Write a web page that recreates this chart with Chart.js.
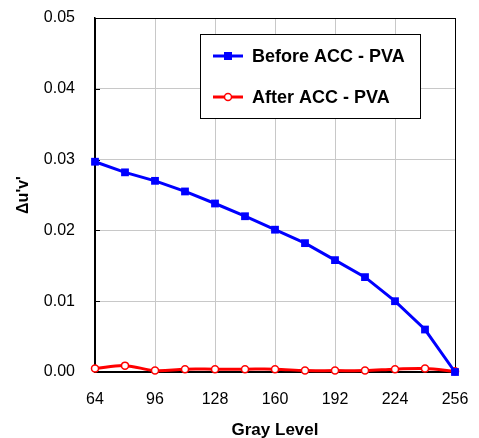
<!DOCTYPE html>
<html>
<head>
<meta charset="utf-8">
<script src="https://cdn.jsdelivr.net/npm/chart.js@4/dist/chart.umd.min.js"></script>
<style>
html,body{margin:0;padding:0;background:#fff;}
#wrap{width:479px;height:438px;position:relative;}
</style>
</head>
<body>
<div id="wrap"><canvas id="c" width="479" height="438"></canvas></div>
<script>
const grayLevels = [64, 80, 96, 112, 128, 144, 160, 176, 192, 208, 224, 240, 256];
const beforeACC = [0.0297, 0.0282, 0.0270, 0.0255, 0.0238, 0.0220, 0.0201, 0.0182, 0.0158, 0.0134, 0.0100, 0.0060, 0.0000];
const afterACC  = [0.0005, 0.0009, 0.0002, 0.0004, 0.0004, 0.0004, 0.0004, 0.0002, 0.0002, 0.0002, 0.0004, 0.0005, 0.0001];
const seriesNames = ['Before ACC - PVA', 'After ACC - PVA'];
const xTicks = [64, 96, 128, 160, 192, 224, 256];
const yTicks = [0, 0.01, 0.02, 0.03, 0.04, 0.05];
const xTitle = 'Gray Level';
const yTitle = "\u0394u'v'";

const toPts = (arr) => grayLevels.map((g, i) => ({x: g, y: arr[i]}));

const framePlugin = {
  id: 'frame',
  beforeDatasetsDraw(chart) {
    const {ctx, chartArea: a, scales} = chart;
    ctx.save();
    ctx.strokeStyle = '#000';
    ctx.lineWidth = 1;
    ctx.strokeRect(Math.round(a.left) + 0.5, Math.round(a.top) + 0.5, Math.round(a.right - a.left), Math.round(a.bottom - a.top));
    yTicks.forEach(v => {
      const y = Math.round(scales.y.getPixelForValue(v)) + 0.5;
      ctx.beginPath(); ctx.moveTo(a.left, y); ctx.lineTo(a.left + 5, y); ctx.stroke();
    });
    ctx.restore();
  },
  afterDraw(chart) {
    const {ctx} = chart;
    ctx.save();
    const bx = 200.5, by = 34.5, bw = 220, bh = 84;
    ctx.fillStyle = '#fff';
    ctx.fillRect(bx, by, bw, bh);
    ctx.strokeStyle = '#000';
    ctx.lineWidth = 1;
    ctx.strokeRect(bx, by, bw, bh);
    const rows = [56, 97];
    chart.data.datasets.forEach((ds, i) => {
      const y = rows[i];
      ctx.strokeStyle = ds.borderColor;
      ctx.lineWidth = 3;
      ctx.beginPath(); ctx.moveTo(213, y); ctx.lineTo(243, y); ctx.stroke();
      if (ds.pointStyle === 'rect') {
        ctx.fillStyle = ds.pointBackgroundColor;
        ctx.fillRect(224, y - 4, 8, 8);
      } else {
        ctx.beginPath(); ctx.arc(228, y, 3.5, 0, Math.PI * 2);
        ctx.fillStyle = ds.pointBackgroundColor; ctx.fill();
        ctx.lineWidth = 1.5; ctx.strokeStyle = ds.pointBorderColor; ctx.stroke();
      }
      ctx.fillStyle = '#000';
      ctx.font = 'bold 18px "Liberation Sans", Arial, sans-serif';
      ctx.textBaseline = 'middle';
      ctx.textAlign = 'left';
      ctx.fillText(ds.label, 252, y + 1);
    });
    ctx.restore();
  }
};

new Chart(document.getElementById('c'), {
  type: 'line',
  data: {
    datasets: [
      {
        label: seriesNames[0],
        data: toPts(beforeACC),
        borderColor: '#0000ff',
        backgroundColor: '#0000ff',
        pointBackgroundColor: '#0000ff',
        pointBorderColor: '#0000ff',
        pointStyle: 'rect',
        pointRadius: 5.5,
        pointBorderWidth: 0,
        borderWidth: 3,
        tension: 0,
        clip: false
      },
      {
        label: seriesNames[1],
        data: toPts(afterACC),
        borderColor: '#ff0000',
        backgroundColor: '#ff0000',
        pointBackgroundColor: '#ffffff',
        pointBorderColor: '#ff0000',
        pointStyle: 'circle',
        pointRadius: 3.5,
        pointBorderWidth: 1.5,
        borderWidth: 3,
        tension: 0.35,
        clip: false
      }
    ]
  },
  options: {
    responsive: false,
    animation: false,
    devicePixelRatio: 1,
    layout: {padding: {top: 18, right: 24, left: 0, bottom: 0}},
    plugins: {legend: {display: false}, tooltip: {enabled: false}},
    scales: {
      x: {
        type: 'linear',
        min: 64, max: 256,
        afterFit(s) { s.height = 66; s.paddingLeft = 0; s.paddingRight = 0; },
        afterBuildTicks(s) { s.ticks = xTicks.map(v => ({value: v})); },
        grid: {color: '#c8c8c8', lineWidth: 1, drawTicks: false},
        border: {color: '#000', width: 1.5},
        ticks: {
          padding: 18,
          color: '#000',
          font: {family: '"Liberation Sans", Arial, sans-serif', size: 16},
          maxRotation: 0
        },
        title: {
          display: true, text: xTitle, color: '#000',
          font: {family: '"Liberation Sans", Arial, sans-serif', size: 17, weight: 'bold'},
          padding: {top: 0, bottom: -3}
        }
      },
      y: {
        min: 0, max: 0.05,
        afterFit(s) { s.width = 95; s.paddingTop = 0; s.paddingBottom = 0; },
        afterBuildTicks(s) { s.ticks = yTicks.map(v => ({value: v})); },
        grid: {color: '#c8c8c8', lineWidth: 1, drawTicks: false},
        border: {color: '#000', width: 1.5},
        ticks: {
          padding: 20,
          color: '#000',
          font: {family: '"Liberation Sans", Arial, sans-serif', size: 16},
          callback: (v) => Number(v).toFixed(2)
        },
        title: {
          display: true, text: yTitle, color: '#000',
          font: {family: '"Liberation Sans", Arial, sans-serif', size: 16, weight: 'bold'},
          padding: {top: 14, bottom: 0}
        }
      }
    }
  },
  plugins: [framePlugin]
});
</script>
</body>
</html>
